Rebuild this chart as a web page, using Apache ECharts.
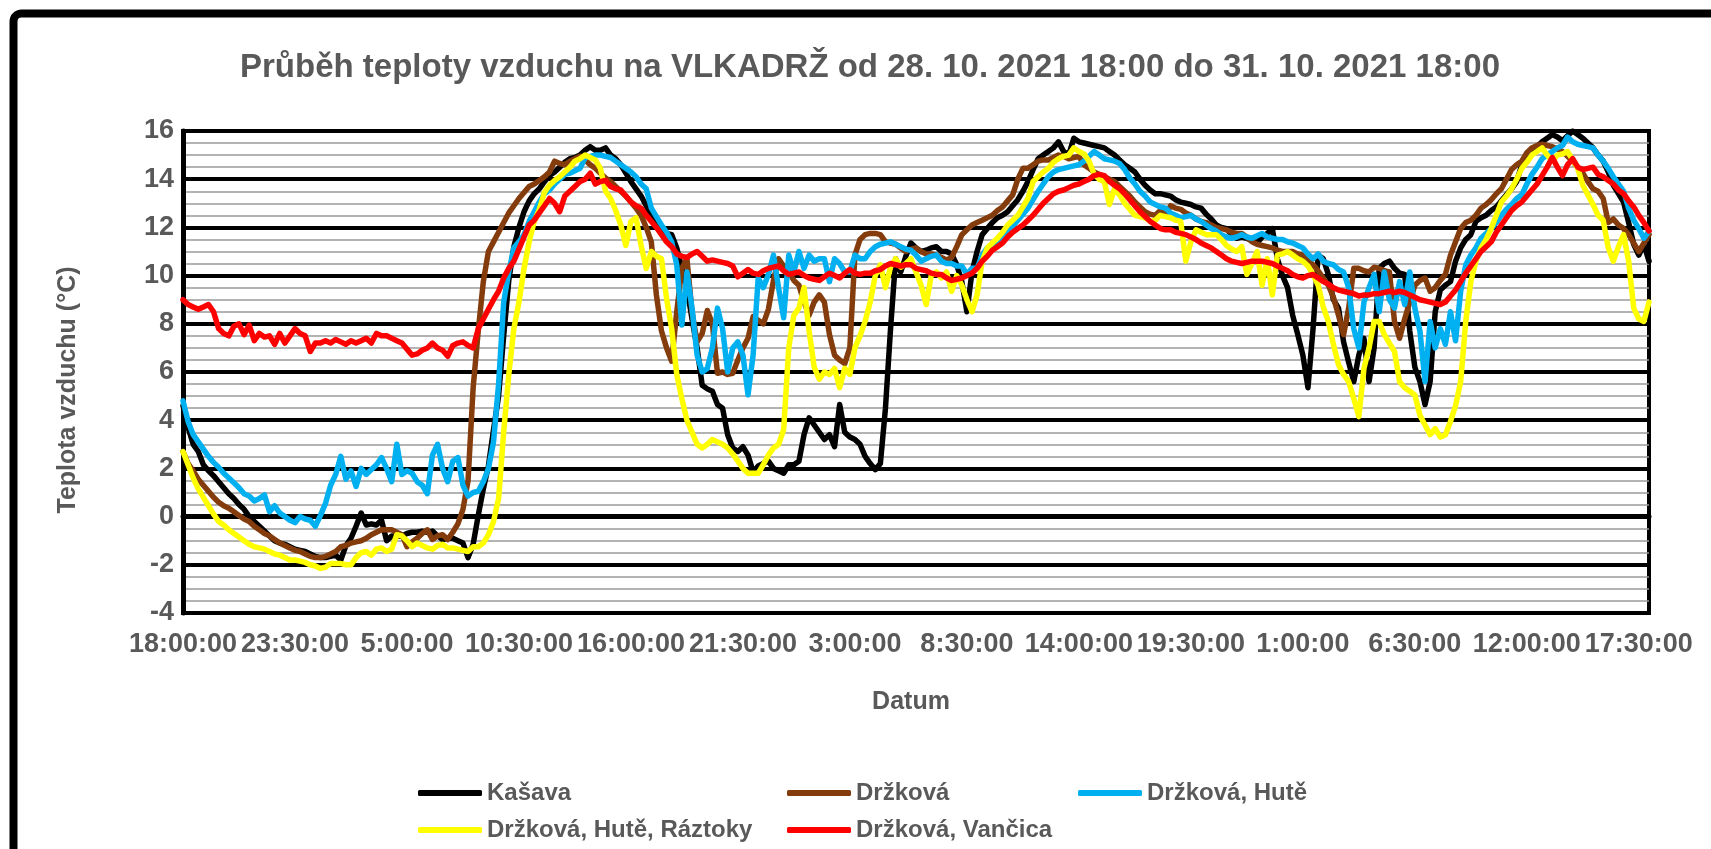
<!DOCTYPE html>
<html>
<head>
<meta charset="utf-8">
<script src="https://cdn.jsdelivr.net/npm/echarts@6/dist/echarts.min.js"></script>
<style>
  html, body { margin: 0; padding: 0; background: #fff; }
  #chart { width: 1711px; height: 849px; }
</style>
</head>
<body>
<div id="chart"></div>
<script>
// 15-minute samples from 28.10.2021 18:00 to 31.10.2021 18:00 (289 points)
const titleText = 'Průběh teploty vzduchu na VLKADRŽ od 28. 10. 2021 18:00 do 31. 10. 2021 18:00';
const seriesNames = ['Kašava', 'Držková', 'Držková, Hutě', 'Držková, Hutě, Ráztoky', 'Držková, Vančica'];
const seriesColors = ['#000000', '#843C0C', '#00B0F0', '#FFFF00', '#FF0000'];
const tickLabels = ['18:00:00','23:30:00','5:00:00','10:30:00','16:00:00','21:30:00','3:00:00',
                    '8:30:00','14:00:00','19:30:00','1:00:00','6:30:00','12:00:00','17:30:00'];

const kasava = [
4.6,3.7,3.0,2.7,2.15,1.9,1.7,1.45,1.2,0.95,0.75,0.5,
0.3,0.0,-0.2,-0.4,-0.6,-0.8,-1.0,-1.1,-1.15,-1.25,-1.35,-1.4,
-1.45,-1.55,-1.65,-1.7,-1.7,-1.65,-1.6,-1.8,-1.2,-0.9,-0.4,0.15,
-0.35,-0.3,-0.35,-0.15,-1.0,-0.8,-0.8,-0.8,-0.7,-0.65,-0.65,-0.6,
-0.65,-0.6,-0.8,-0.95,-0.9,-0.9,-1.0,-1.1,-1.7,-1.15,0.05,1.15,
2.1,3.6,5.0,7.5,9.8,11.2,12.0,12.65,13.1,13.4,13.6,13.9,
14.15,14.3,14.5,14.7,14.85,14.9,15.0,15.2,15.35,15.2,15.2,15.3,
15.0,14.85,14.6,14.25,13.9,13.6,13.3,12.9,12.5,12.2,11.8,11.75,
11.7,11.15,10.3,9.5,8.2,7.0,5.45,5.3,5.2,4.65,4.5,3.4,
2.85,2.7,2.9,2.55,1.85,2.1,2.2,2.3,2.0,1.9,1.8,2.15,
2.15,2.3,3.4,4.1,3.8,3.5,3.2,3.4,2.9,4.65,3.5,3.3,
3.2,3.0,2.5,2.2,1.95,2.2,4.5,7.8,10.7,10.15,10.8,11.35,
11.15,11.0,11.05,11.15,11.2,11.0,11.0,10.9,10.45,9.75,8.5,10.15,
11.0,11.7,11.95,12.2,12.4,12.5,12.65,12.9,13.15,13.5,13.9,14.4,
14.85,15.0,15.15,15.3,15.55,15.15,15.0,15.7,15.55,15.5,15.45,15.4,
15.35,15.3,15.15,15.0,14.8,14.6,14.45,14.3,14.0,13.75,13.55,13.4,
13.4,13.35,13.3,13.15,13.05,13.0,12.95,12.85,12.8,12.55,12.35,12.1,
12.0,11.95,11.7,11.55,11.6,11.55,11.45,11.35,11.6,11.75,11.95,10.7,
10.0,9.5,8.35,7.55,6.7,5.35,7.8,10.85,10.7,10.05,9.0,8.65,
7.25,6.4,5.6,6.7,7.4,5.6,7.0,10.3,10.5,10.6,10.3,10.1,
10.05,7.7,6.2,5.6,4.65,5.6,8.5,9.4,9.6,9.75,10.6,11.15,
11.5,11.7,12.25,12.4,12.5,12.7,12.85,13.1,13.35,13.6,13.9,14.6,
14.9,15.15,15.35,15.55,15.7,15.85,15.75,15.6,15.8,16.0,15.85,15.7,
15.5,15.3,15.0,14.75,14.3,13.75,13.4,13.05,12.2,11.3,10.85,11.3,10.6
];

const drzkova = [
2.7,2.2,1.9,1.55,1.3,1.05,0.8,0.6,0.45,0.35,0.2,0.05,
-0.1,-0.2,-0.4,-0.55,-0.7,-0.8,-0.95,-1.1,-1.2,-1.3,-1.4,-1.45,
-1.55,-1.65,-1.7,-1.7,-1.65,-1.55,-1.45,-1.25,-1.2,-1.1,-1.05,-1.0,
-0.9,-0.75,-0.65,-0.55,-0.55,-0.55,-0.65,-0.75,-1.25,-1.05,-0.9,-0.7,
-0.55,-0.95,-0.8,-0.75,-0.95,-0.65,-0.3,0.3,1.5,5.35,7.7,9.75,
11.0,11.4,11.8,12.2,12.6,12.9,13.2,13.45,13.7,13.8,13.95,14.1,
14.3,14.75,14.65,14.6,14.75,14.85,14.95,14.8,14.6,14.45,14.25,14.05,
13.9,13.7,13.5,13.3,13.05,12.8,12.5,12.0,11.4,9.2,7.7,7.0,
6.45,8.5,10.3,10.7,8.5,7.25,7.6,8.55,8.0,5.95,6.0,5.9,
5.95,6.5,7.0,7.4,8.3,8.15,8.0,8.6,9.8,10.7,10.4,10.15,
9.8,9.6,8.9,8.35,8.9,9.2,8.9,7.55,6.7,6.5,6.35,7.0,
10.85,11.5,11.7,11.75,11.75,11.7,11.4,11.35,11.3,11.15,11.0,11.1,
11.15,11.0,10.9,10.9,10.85,10.75,10.65,10.75,11.2,11.7,11.9,12.1,
12.2,12.3,12.4,12.5,12.7,12.85,13.1,13.35,14.0,14.45,14.45,14.6,
14.75,14.8,14.8,14.9,15.0,14.95,14.85,14.9,14.95,14.6,14.45,14.3,
14.2,14.1,14.0,13.9,13.7,13.5,13.3,13.05,12.85,12.65,12.55,12.5,
12.7,12.5,12.9,12.8,12.75,12.6,12.5,12.35,12.25,12.2,12.1,12.0,
11.95,11.9,11.8,11.75,11.75,11.6,11.4,11.3,11.25,11.2,11.15,11.05,
11.0,11.0,11.0,10.9,10.85,10.65,10.45,10.2,9.9,9.6,9.1,8.35,
7.55,8.65,10.3,10.3,10.2,10.15,10.35,10.3,10.2,10.15,8.1,7.4,
8.2,8.9,9.6,9.8,9.9,9.35,9.5,9.8,10.05,10.85,11.4,11.95,
12.2,12.3,12.5,12.8,12.95,13.15,13.4,13.6,14.0,14.4,14.6,14.75,
15.1,15.3,15.4,15.45,15.4,15.35,15.25,15.15,14.95,14.75,14.5,14.25,
13.9,13.6,13.5,13.2,12.2,12.35,12.1,11.95,11.7,11.35,11.0,11.35,11.7
];

const drzkovaHute = [
4.8,3.95,3.4,3.1,2.8,2.5,2.25,2.05,1.8,1.6,1.4,1.2,
0.95,0.85,0.65,0.75,0.9,0.2,0.45,0.15,0.0,-0.15,-0.25,0.0,
-0.1,-0.15,-0.4,0.05,0.55,1.3,1.75,2.5,1.55,1.9,1.25,2.0,
1.75,1.95,2.15,2.45,2.0,1.45,3.0,1.75,1.9,1.8,1.45,1.3,
0.95,2.55,3.0,2.0,1.45,2.3,2.45,1.3,0.85,1.0,1.05,1.45,
2.0,3.1,5.5,8.9,10.15,11.15,11.4,11.7,12.25,12.65,13.05,13.4,
13.55,13.8,14.0,14.2,14.25,14.35,14.45,14.9,14.95,15.0,15.0,14.95,
14.9,14.75,14.6,14.45,14.3,14.1,13.8,13.6,12.8,12.45,12.1,11.8,
11.4,10.45,7.95,10.15,8.65,6.7,6.0,6.15,7.0,8.65,7.8,6.0,
7.0,7.25,6.7,5.05,6.7,9.9,9.5,10.05,10.85,9.5,8.25,10.85,
10.15,11.0,10.3,10.85,10.6,10.7,10.7,9.75,10.7,10.5,10.15,10.15,
10.85,10.7,10.7,11.0,11.2,11.3,11.35,11.4,11.3,11.2,11.1,11.05,
10.85,10.6,10.7,10.8,10.85,10.6,10.5,10.5,10.4,10.4,10.05,10.3,
10.3,10.85,11.15,11.3,11.4,11.6,11.8,12.05,12.3,12.55,12.8,13.15,
13.5,13.8,14.1,14.3,14.4,14.45,14.5,14.55,14.6,14.75,14.95,15.15,
15.0,14.85,14.8,14.75,14.65,14.4,14.05,13.8,13.5,13.3,13.05,12.95,
12.85,12.8,12.6,12.5,12.4,12.45,12.5,12.35,12.25,12.1,11.95,11.85,
11.7,11.6,11.55,11.6,11.7,11.6,11.55,11.65,11.75,11.6,11.55,11.5,
11.5,11.4,11.35,11.25,11.15,10.9,10.7,10.9,10.6,10.5,10.45,10.25,
10.15,9.5,7.8,7.0,8.9,9.5,10.05,8.5,10.15,9.0,8.65,9.75,
8.8,10.15,8.65,7.7,5.6,8.1,7.0,7.8,7.15,8.5,7.3,9.35,
10.45,10.85,11.15,11.55,11.75,11.95,12.2,12.5,12.75,12.95,13.2,13.35,
13.8,14.2,14.5,14.85,15.0,15.15,15.3,15.4,15.75,15.55,15.45,15.4,
15.35,15.3,15.0,14.75,14.45,14.1,13.8,13.5,12.8,12.3,11.95,11.55,11.85
];

const drzkovaHuteRaztoky = [
2.7,2.15,1.6,1.15,0.8,0.45,0.1,-0.2,-0.35,-0.55,-0.7,-0.85,
-1.0,-1.15,-1.25,-1.3,-1.35,-1.45,-1.55,-1.6,-1.7,-1.8,-1.8,-1.85,
-1.9,-2.0,-2.05,-2.15,-2.1,-1.95,-1.95,-1.95,-2.0,-2.0,-1.7,-1.5,
-1.45,-1.6,-1.35,-1.3,-1.45,-1.35,-0.75,-0.8,-1.0,-1.25,-1.1,-1.2,
-1.3,-1.35,-1.2,-1.15,-1.3,-1.3,-1.35,-1.4,-1.45,-1.25,-1.25,-1.1,
-0.75,-0.2,0.75,3.5,5.9,7.8,8.9,10.3,11.4,12.25,12.75,13.45,
13.75,13.95,14.1,14.3,14.5,14.75,14.85,15.0,14.9,14.8,14.45,13.5,
13.2,12.7,12.1,11.25,12.25,12.4,11.25,10.3,11.0,10.8,10.7,9.05,
7.8,5.9,4.9,4.0,3.5,3.0,2.85,3.0,3.2,3.1,3.0,2.85,
2.6,2.3,2.0,1.8,1.8,1.8,2.15,2.55,2.85,3.0,3.6,7.0,
8.35,8.65,9.5,7.7,6.2,5.7,6.0,5.9,6.15,5.35,6.15,5.9,
7.0,7.5,8.1,8.9,10.0,10.45,9.5,10.35,10.7,10.35,10.5,10.7,
10.15,9.6,8.8,10.0,10.15,9.9,10.15,9.35,10.0,9.6,9.0,8.5,
9.2,10.6,11.15,11.35,11.55,11.8,12.1,12.3,12.5,12.85,13.2,13.9,
14.1,14.3,14.45,14.7,14.85,14.95,15.0,15.3,15.15,15.05,14.75,14.2,
14.0,13.9,12.95,13.6,13.35,13.0,12.75,12.5,12.45,12.4,12.25,12.3,
12.5,12.45,12.4,12.3,12.25,10.6,11.4,11.9,11.8,11.7,11.7,11.7,
11.5,11.25,11.1,11.0,11.2,10.05,10.5,11.0,9.6,10.7,9.2,10.85,
10.9,11.0,10.85,10.7,10.6,10.4,10.05,9.6,8.7,8.1,7.15,6.3,
5.9,5.6,4.9,4.15,6.15,7.0,8.1,8.1,7.55,7.2,6.85,5.6,
5.35,5.2,5.05,4.2,3.8,3.4,3.65,3.3,3.4,3.95,4.6,5.6,
8.1,9.75,10.6,11.15,11.5,11.95,12.5,13.05,13.3,13.6,14.0,14.45,
14.7,15.0,15.15,15.3,15.0,14.75,15.0,15.05,15.15,14.8,14.45,13.75,
13.35,12.95,12.5,12.3,11.15,10.6,11.2,11.7,10.6,8.65,8.2,8.1,8.9
];

const drzkovaVancica = [
9.0,8.8,8.7,8.6,8.7,8.8,8.5,7.8,7.6,7.5,7.9,8.0,
7.55,7.95,7.3,7.6,7.45,7.5,7.15,7.6,7.2,7.5,7.8,7.6,
7.5,6.85,7.2,7.2,7.3,7.2,7.35,7.25,7.15,7.3,7.2,7.3,
7.4,7.2,7.6,7.5,7.5,7.4,7.3,7.2,6.95,6.7,6.75,6.9,
7.0,7.2,7.0,6.9,6.65,7.1,7.2,7.25,7.1,7.0,7.8,8.2,
8.6,9.0,9.35,9.9,10.3,10.6,11.1,11.6,12.1,12.3,12.6,12.9,
13.2,13.0,12.65,13.3,13.5,13.7,13.9,14.0,14.25,13.8,13.9,13.95,
13.7,13.6,13.55,13.3,13.05,12.9,12.8,12.5,12.25,12.0,11.7,11.4,
11.2,10.9,10.8,10.75,10.9,11.0,10.8,10.6,10.65,10.6,10.55,10.5,
10.4,9.95,10.1,10.25,10.1,10.05,10.2,10.3,10.35,10.4,10.2,10.05,
10.1,10.15,10.0,9.9,9.85,9.8,9.95,10.1,10.0,9.9,10.1,10.25,
10.1,10.05,10.1,10.1,10.2,10.25,10.4,10.5,10.45,10.4,10.45,10.45,
10.3,10.25,10.2,10.1,10.05,10.05,9.9,9.8,9.85,9.9,10.0,10.1,
10.3,10.6,10.8,11.05,11.2,11.35,11.6,11.8,11.95,12.1,12.3,12.5,
12.75,13.0,13.2,13.4,13.5,13.55,13.65,13.75,13.8,13.9,14.0,14.15,
14.2,14.15,13.9,13.75,13.6,13.4,13.15,12.9,12.65,12.45,12.25,12.1,
11.95,11.9,11.9,11.8,11.75,11.7,11.6,11.5,11.35,11.25,11.15,11.0,
10.85,10.7,10.6,10.55,10.5,10.55,10.6,10.6,10.6,10.55,10.5,10.4,
10.3,10.2,10.05,9.95,9.9,10.0,10.05,9.9,9.75,9.65,9.5,9.4,
9.35,9.3,9.25,9.15,9.2,9.2,9.25,9.25,9.3,9.35,9.3,9.35,
9.3,9.2,9.1,9.0,8.95,8.9,8.85,8.8,8.9,9.15,9.4,9.75,
10.1,10.4,10.7,11.0,11.2,11.4,11.8,12.1,12.4,12.7,12.9,13.05,
13.3,13.55,13.8,14.15,14.5,14.9,14.5,14.15,14.6,14.85,14.5,14.4,
14.45,14.5,14.2,14.1,13.95,13.8,13.55,13.4,13.1,12.85,12.5,12.2,11.85
];

const seriesData = [kasava, drzkova, drzkovaHute, drzkovaHuteRaztoky, drzkovaVancica];

// category axis: one entry per 15-minute sample, starting 18:00
const nPoints = 289;
const categories = [];
for (let i = 0; i < nPoints; i++) {
  const m = (18 * 60 + i * 15) % (24 * 60);
  categories.push(Math.floor(m / 60) + ':' + String(m % 60).padStart(2, '0') + ':00');
}
const labelStep = 22; // 5.5 h

const FONT = "'Liberation Sans', Arial, sans-serif";
const GREY = '#595959';

// legend placement: [series index, left, row centre y]
const legendSlots = [[0, 418, 793], [1, 787, 793], [2, 1078, 793], [3, 418, 830], [4, 787, 830]];

const chart = echarts.init(document.getElementById('chart'), null, { renderer: 'canvas' });

chart.setOption({
  animation: false,
  backgroundColor: '#ffffff',
  grid: {
    left: 183, top: 131, width: 1466, height: 482,
    show: true, borderColor: '#000', borderWidth: 4, backgroundColor: 'transparent'
  },
  legend: legendSlots.map(function (s) {
    return {
      left: s[1], top: s[2] - 14,
      padding: 0,
      orient: 'horizontal',
      itemWidth: 64, itemHeight: 6,
      icon: 'roundRect',
      selectedMode: false,
      data: [seriesNames[s[0]]],
      textStyle: { fontFamily: FONT, fontSize: 24, fontWeight: 'bold', color: GREY, lineHeight: 28 }
    };
  }),
  xAxis: {
    type: 'category',
    data: categories,
    boundaryGap: false,
    axisLine: { show: true, lineStyle: { color: '#000', width: 5 } },
    axisTick: { show: false },
    splitLine: { show: false },
    axisLabel: {
      interval: labelStep - 1,
      margin: 18,
      fontFamily: FONT, fontSize: 27, fontWeight: 'bold', color: GREY,
      formatter: function (v, idx) { return idx % labelStep === 0 ? (tickLabels[idx / labelStep] || '') : ''; }
    }
  },
  yAxis: {
    type: 'value',
    min: -4, max: 16, interval: 2,
    axisLine: { show: true, lineStyle: { color: '#000', width: 5 } },
    axisTick: { show: false },
    minorTick: { show: false, splitNumber: 4 },
    splitLine: { show: true, lineStyle: { color: '#000', width: 4 } },
    minorSplitLine: { show: true, lineStyle: { color: '#9a9a9a', width: 1.5 } },
    axisLabel: { margin: 9, fontFamily: FONT, fontSize: 27, fontWeight: 'bold', color: GREY }
  },
  series: seriesNames.map(function (name, k) {
    return {
      name: name,
      type: 'line',
      data: seriesData[k],
      showSymbol: false,
      symbol: 'none',
      smooth: false,
      color: seriesColors[k],
      lineStyle: { color: seriesColors[k], width: 5.5, join: 'round', cap: 'round' },
      z: 2 + k
    };
  }),
  graphic: [
    {
      type: 'rect', silent: true, z: 100,
      shape: { x: 13.5, y: 13.5, width: 1800, height: 1000, r: 8 },
      style: { fill: 'none', stroke: '#000', lineWidth: 8 }
    },
    {
      type: 'text', silent: true,
      x: 870, y: 68,
      style: { text: titleText, fontFamily: FONT, fontSize: 33, fontWeight: 'bold', fill: GREY,
               textAlign: 'center', textVerticalAlign: 'middle' }
    },
    {
      type: 'text', silent: true,
      x: 68, y: 390, rotation: Math.PI / 2,
      style: { text: 'Teplota vzduchu (°C)', fontFamily: FONT, fontSize: 25, fontWeight: 'bold', fill: GREY,
               textAlign: 'center', textVerticalAlign: 'middle' }
    },
    {
      type: 'text', silent: true,
      x: 911, y: 702,
      style: { text: 'Datum', fontFamily: FONT, fontSize: 25, fontWeight: 'bold', fill: GREY,
               textAlign: 'center', textVerticalAlign: 'middle' }
    }
  ]
});
</script>
</body>
</html>
